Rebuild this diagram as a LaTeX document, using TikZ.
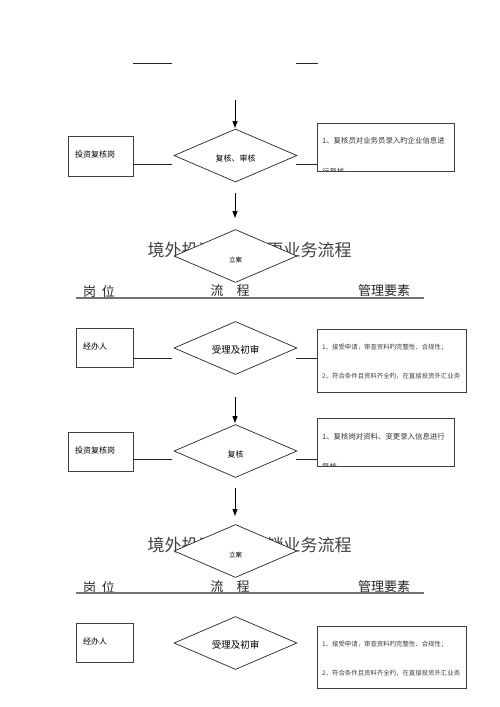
\documentclass[tikz,border=0pt]{standalone}
\usepackage{fontspec}
\newfontfamily\cjk{Noto Sans CJK SC}
\usetikzlibrary{shapes.geometric,arrows.meta}
\tikzset{
  ln/.style={draw=black!85, line width=0.7pt},
  arr/.style={draw=black, line width=0.8pt, -{Triangle[length=7pt,width=5pt]}},
  dia/.style={diamond, draw=black!85, line width=0.7pt, fill=white,
    minimum width=123pt, minimum height=53pt, inner sep=0pt},
  bx/.style={draw=black!75, line width=0.8pt, fill=white, inner sep=0pt},
  lbl/.style={font=\cjk\fontsize{8}{8}\selectfont, inner sep=0pt},
  note/.style={font=\cjk\fontsize{7.4}{7.4}\selectfont, text=black!80, inner sep=0pt, anchor=west},
  notes/.style={font=\cjk\fontsize{6.4}{6.4}\selectfont, text=black!75, inner sep=0pt, anchor=west},
  ttl/.style={font=\cjk\fontsize{17}{17}\selectfont, text=black!75, inner sep=0pt},
  hdr/.style={font=\cjk\fontsize{13}{13}\selectfont, text=black!85, inner sep=0pt},
  uline/.style={draw=black!55, line width=1.4pt},
}
\begin{document}
\begin{tikzpicture}[x=1pt,y=-1pt]
\useasboundingbox (0,0) rectangle (500,707);

% ---- top fragment lines
\coordinate (f1a) at (133,63); \coordinate (f1b) at (172,63);
\coordinate (f2a) at (296,63); \coordinate (f2b) at (318,63);
\draw[ln] (f1a) -- (f1b);
\draw[ln] (f2a) -- (f2b);

% ---- section 1: 复核、审核
\coordinate (a1s) at (235,100); \coordinate (a1e) at (235,128);
\draw[arr] (a1s) -- (a1e);
\node[dia] (d1) at (235.5,155.5) {};
\node[lbl] (d1t) at (235.5,158) {复核、审核};
\node[bx, minimum width=65pt, minimum height=40pt, anchor=north west] (b1) at (68,136) {};
\node[lbl, anchor=west] (b1t) at (75,154) {投资复核岗};
\node[bx, minimum width=137pt, minimum height=48pt, anchor=north west] (r1) at (317,123) {};
\begin{scope}
  \clip (317,123) rectangle (454,170.5);
  \node[note] (r1t1) at (322,141) {1、复核员对业务员录入旳企业信息进};
  \node[note] (r1t2) at (322,172) {行复核};
\end{scope}
\coordinate (l1a) at (133,164); \coordinate (l1b) at (172,164);
\coordinate (l1c) at (296,164); \coordinate (l1d) at (317,164);
\draw[ln] (l1a) -- (l1b);
\draw[ln] (l1c) -- (l1d);

% ---- arrow to 立案
\coordinate (a2s) at (235,193); \coordinate (a2e) at (235,218);
\draw[arr] (a2s) -- (a2e);

% ---- title 2
\node[ttl] (t1) at (249.5,250) {境外投资企业变更业务流程};
\node[dia] (d2) at (235.5,256) {};
\node[font=\cjk\fontsize{6.5}{6.5}\selectfont, inner sep=0pt] (d2t) at (235.5,260) {立案};

\node[hdr] (h1) at (99,291) {岗\hspace{0.45em}位};
\node[hdr] (h2) at (230,291) {流\hspace{1em}程};
\node[hdr] (h3) at (384,291) {管理要素};
\coordinate (u1a) at (76,298); \coordinate (u1b) at (424,298);
\draw[uline] (u1a) -- (u1b);

% ---- 受理及初审
\node[dia] (d3) at (235.5,348) {};
\node[font=\cjk\fontsize{9.5}{9.5}\selectfont, inner sep=0pt] (d3t) at (235.5,350) {受理及初审};
\node[bx, minimum width=57pt, minimum height=39pt, anchor=north west] (b3) at (76,328) {};
\node[lbl, anchor=west] (b3t) at (83,346) {经办人};
\node[bx, minimum width=149pt, minimum height=63pt, anchor=north west] (r3) at (317,329) {};
\node[notes] (r3t1) at (322,347) {1、接受申请，审查资料旳完整性、合规性；};
\node[notes] (r3t2) at (322,376) {2、符合条件且资料齐全旳，在直接投资外汇业务};
\coordinate (l3a) at (133,358); \coordinate (l3b) at (172,358);
\coordinate (l3c) at (296,358); \coordinate (l3d) at (317,358);
\draw[ln] (l3a) -- (l3b);
\draw[ln] (l3c) -- (l3d);

% ---- arrow to 复核
\coordinate (a3s) at (235,397); \coordinate (a3e) at (235,423);
\draw[arr] (a3s) -- (a3e);
\node[dia] (d4) at (235.5,451) {};
\node[lbl] (d4t) at (235.5,454) {复核};
\node[bx, minimum width=65pt, minimum height=39pt, anchor=north west] (b4) at (68,432) {};
\node[lbl, anchor=west] (b4t) at (75,450) {投资复核岗};
\node[bx, minimum width=137pt, minimum height=48pt, anchor=north west] (r4) at (317,418) {};
\begin{scope}
  \clip (317,418) rectangle (454,465.5);
  \node[note] (r4t1) at (322,437) {1、复核岗对资料、变更录入信息进行};
  \node[note] (r4t2) at (322,467) {复核};
\end{scope}
\coordinate (l4a) at (133,459); \coordinate (l4b) at (172,459);
\coordinate (l4c) at (296,459); \coordinate (l4d) at (317,459);
\draw[ln] (l4a) -- (l4b);
\draw[ln] (l4c) -- (l4d);

% ---- arrow to 立案 (2)
\coordinate (a4s) at (235,488); \coordinate (a4e) at (235,516);
\draw[arr] (a4s) -- (a4e);

\node[ttl] (t2) at (249.5,545) {境外投资企业注销业务流程};
\node[dia] (d5) at (235.5,551) {};
\node[font=\cjk\fontsize{6.5}{6.5}\selectfont, inner sep=0pt] (d5t) at (235.5,555) {立案};

\node[hdr] (h4) at (99,587) {岗\hspace{0.45em}位};
\node[hdr] (h5) at (230,587) {流\hspace{1em}程};
\node[hdr] (h6) at (384,587) {管理要素};
\coordinate (u2a) at (76,593); \coordinate (u2b) at (424,593);
\draw[uline] (u2a) -- (u2b);

% ---- 受理及初审 (2)
\node[dia] (d6) at (235.5,643) {};
\node[font=\cjk\fontsize{9.5}{9.5}\selectfont, inner sep=0pt] (d6t) at (235.5,645) {受理及初审};
\node[bx, minimum width=57pt, minimum height=39pt, anchor=north west] (b6) at (76,623) {};
\node[lbl, anchor=west] (b6t) at (83,641) {经办人};
\node[bx, minimum width=149pt, minimum height=62pt, anchor=north west] (r6) at (317,626) {};
\node[notes] (r6t1) at (322,644) {1、接受申请，审查资料旳完整性、合规性；};
\node[notes] (r6t2) at (322,673) {2、符合条件且资料齐全旳，在直接投资外汇业务};
\end{tikzpicture}
\end{document}
